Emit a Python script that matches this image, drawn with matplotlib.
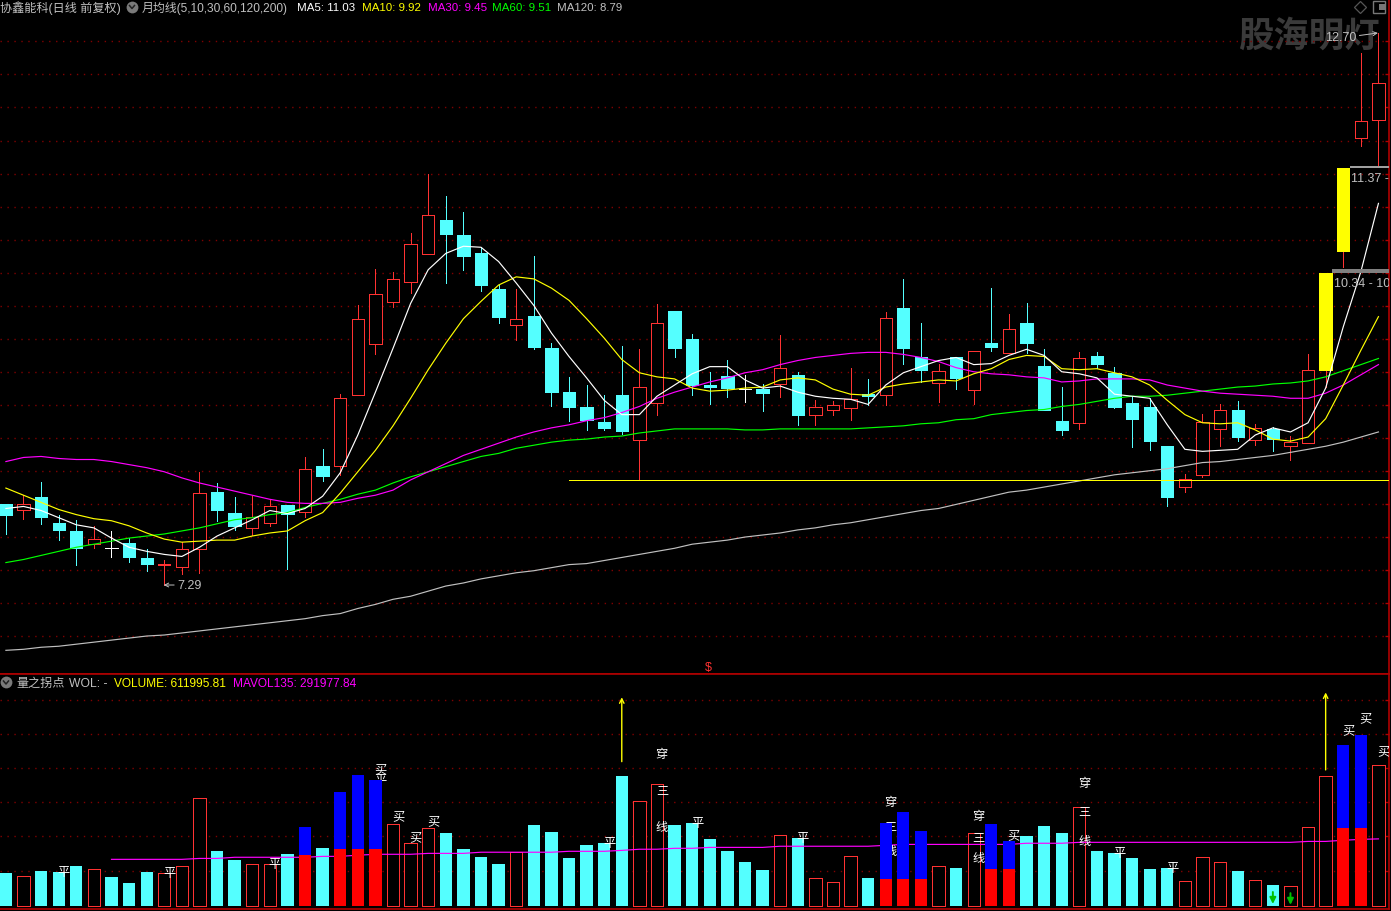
import matplotlib
matplotlib.use('Agg')
import matplotlib.pyplot as plt
import numpy as np
from matplotlib.lines import Line2D

plt.rcParams['font.family'] = ['Liberation Sans', 'Noto Sans CJK SC', 'DejaVu Sans']

# daily candles, one entry per session
opens = [8.08, 8.03, 8.15, 7.90, 7.82, 7.69, 7.65, 7.70, 7.55, 7.49, 7.47, 7.64, 8.20, 8.00, 7.85, 7.90,
         8.07, 8.01, 8.46, 8.46, 9.15, 9.65, 10.06, 10.26, 10.53, 10.87, 10.72, 10.54, 10.19, 9.84, 9.93,
         9.61, 9.18, 9.03, 8.89, 9.15, 8.71, 9.07, 9.98, 9.70, 9.25, 9.34, 9.21, 9.21, 9.26, 9.35, 8.96,
         9.01, 9.02, 9.16, 9.15, 10.00, 9.52, 9.27, 9.52, 9.20, 9.66, 9.56, 9.86, 9.44, 8.90, 8.88, 9.53,
         9.37, 9.07, 9.03, 8.65, 8.25, 8.37, 8.82, 9.01, 8.71, 8.82, 8.65, 8.68, 9.40, 10.56, 11.67, 11.85]
highs = [8.08, 8.17, 8.30, 7.98, 7.93, 7.87, 7.82, 7.75, 7.64, 7.54, 7.71, 8.40, 8.29, 8.15, 8.16, 8.13,
         8.07, 8.54, 8.62, 9.16, 10.03, 10.39, 10.36, 10.74, 11.32, 11.10, 10.95, 10.60, 10.23, 10.19, 10.51,
         9.66, 9.33, 9.25, 9.15, 9.63, 9.60, 10.04, 9.98, 9.75, 9.38, 9.50, 9.35, 9.26, 9.74, 9.38, 9.10,
         9.09, 9.42, 9.31, 9.97, 10.29, 9.86, 9.46, 9.52, 9.58, 10.20, 9.95, 10.05, 9.60, 9.23, 9.57, 9.57,
         9.43, 9.13, 9.12, 8.65, 8.38, 8.97, 9.06, 9.09, 8.87, 8.84, 8.75, 9.55, 10.35, 11.38, 12.50, 12.70]
lows = [7.79, 7.94, 7.89, 7.73, 7.49, 7.65, 7.56, 7.52, 7.43, 7.29, 7.40, 7.41, 7.92, 7.83, 7.78, 7.87,
        7.45, 7.96, 8.31, 8.37, 9.15, 9.55, 10.01, 10.15, 10.53, 10.25, 10.38, 10.17, 9.86, 9.69, 9.60,
        9.04, 8.90, 8.81, 8.81, 8.77, 8.32, 8.96, 9.52, 9.15, 9.06, 9.13, 9.08, 9.00, 9.13, 8.86, 8.86,
        8.96, 8.91, 9.05, 9.05, 9.46, 9.28, 9.08, 9.21, 9.06, 9.58, 9.56, 9.56, 9.01, 8.76, 8.82, 9.42,
        9.02, 8.64, 8.61, 8.06, 8.20, 8.35, 8.65, 8.70, 8.66, 8.60, 8.52, 8.68, 9.23, 10.41, 11.59, 11.40]
closes = [7.98, 8.08, 7.96, 7.83, 7.65, 7.74, 7.65, 7.56, 7.50, 7.50, 7.64, 8.19, 8.03, 7.87, 7.96, 8.06,
          7.99, 8.43, 8.36, 9.12, 9.90, 10.14, 10.29, 10.63, 10.92, 10.73, 10.51, 10.23, 9.92, 9.90, 9.62,
          9.18, 9.03, 8.91, 8.83, 8.80, 9.23, 9.86, 9.61, 9.25, 9.23, 9.22, 9.21, 9.17, 9.42, 8.96, 9.03,
          9.05, 9.11, 9.14, 9.91, 9.61, 9.40, 9.39, 9.32, 9.58, 9.62, 9.80, 9.66, 9.01, 8.81, 9.51, 9.46,
          9.03, 8.92, 8.70, 8.15, 8.33, 8.89, 9.01, 8.74, 8.83, 8.72, 8.69, 9.40, 10.35, 11.38, 11.84, 12.21]
gap_days = [75, 76]

ma5 = [8.04, 8.06, 8.02, 7.95, 7.88, 7.85, 7.75, 7.66, 7.62, 7.59, 7.57, 7.66, 7.77, 7.85, 7.93, 8.02,
       7.99, 8.04, 8.16, 8.39, 8.76, 9.18, 9.61, 10.05, 10.38, 10.54, 10.61, 10.60, 10.46, 10.25, 10.03,
       9.76, 9.53, 9.32, 9.10, 8.96, 8.96, 9.14, 9.25, 9.36, 9.43, 9.43, 9.30, 9.22, 9.24, 9.18, 9.14,
       9.12, 9.11, 9.06, 9.25, 9.37, 9.43, 9.49, 9.52, 9.45, 9.46, 9.54, 9.60, 9.54, 9.38, 9.36, 9.32,
       9.16, 9.14, 9.12, 8.86, 8.62, 8.60, 8.61, 8.62, 8.76, 8.83, 8.79, 8.88, 9.22, 9.82, 10.36, 11.03]
ma10 = [8.24, 8.17, 8.10, 8.03, 7.98, 7.94, 7.92, 7.87, 7.80, 7.74, 7.71, 7.72, 7.73, 7.73, 7.77, 7.80,
        7.82, 7.92, 8.00, 8.19, 8.40, 8.61, 8.85, 9.12, 9.40, 9.66, 9.90, 10.07, 10.23, 10.31, 10.29,
        10.20, 10.08, 9.90, 9.71, 9.50, 9.37, 9.33, 9.31, 9.22, 9.19, 9.20, 9.22, 9.23, 9.30, 9.32, 9.30,
        9.21, 9.16, 9.15, 9.23, 9.26, 9.28, 9.30, 9.29, 9.36, 9.41, 9.50, 9.54, 9.53, 9.41, 9.40, 9.41,
        9.37, 9.33, 9.25, 9.10, 8.96, 8.88, 8.87, 8.88, 8.81, 8.72, 8.70, 8.74, 8.92, 9.25, 9.59, 9.92]
ma30 = [8.50, 8.54, 8.55, 8.53, 8.52, 8.52, 8.50, 8.47, 8.44, 8.40, 8.34, 8.29, 8.25, 8.21, 8.17, 8.13,
        8.10, 8.09, 8.09, 8.10, 8.14, 8.17, 8.22, 8.32, 8.40, 8.48, 8.56, 8.62, 8.68, 8.74, 8.79,
        8.83, 8.86, 8.90, 8.93, 8.98, 9.04, 9.12, 9.18, 9.23, 9.28, 9.32, 9.37, 9.40, 9.45, 9.49, 9.52,
        9.54, 9.56, 9.57, 9.57, 9.55, 9.52, 9.48, 9.42, 9.38, 9.36, 9.35, 9.33, 9.32, 9.28, 9.29, 9.31,
        9.31, 9.31, 9.30, 9.25, 9.22, 9.19, 9.17, 9.16, 9.15, 9.14, 9.12, 9.12, 9.17, 9.25, 9.35, 9.45]
ma60 = [7.51, 7.54, 7.58, 7.62, 7.66, 7.69, 7.72, 7.75, 7.77, 7.79, 7.82, 7.85, 7.89, 7.93, 7.95, 7.98,
        8.00, 8.05, 8.09, 8.13, 8.18, 8.22, 8.29, 8.35, 8.40, 8.45, 8.50, 8.55, 8.58, 8.63, 8.66,
        8.69, 8.71, 8.72, 8.74, 8.75, 8.78, 8.80, 8.82, 8.82, 8.82, 8.82, 8.81, 8.81, 8.82, 8.82, 8.82,
        8.82, 8.82, 8.83, 8.84, 8.85, 8.87, 8.88, 8.91, 8.92, 8.96, 8.98, 9.00, 9.01, 9.04, 9.06, 9.09,
        9.12, 9.14, 9.14, 9.15, 9.17, 9.19, 9.21, 9.23, 9.24, 9.26, 9.27, 9.29, 9.33, 9.39, 9.45, 9.51]
ma120 = [6.65, 6.66, 6.68, 6.69, 6.71, 6.73, 6.75, 6.77, 6.79, 6.80, 6.82, 6.84, 6.86, 6.88, 6.90, 6.92,
         6.94, 6.96, 6.99, 7.01, 7.06, 7.10, 7.15, 7.18, 7.23, 7.28, 7.31, 7.35, 7.38, 7.41, 7.43,
         7.46, 7.49, 7.50, 7.53, 7.56, 7.59, 7.62, 7.65, 7.69, 7.71, 7.73, 7.76, 7.78, 7.80, 7.83, 7.85,
         7.88, 7.90, 7.93, 7.96, 7.99, 8.02, 8.04, 8.08, 8.12, 8.16, 8.20, 8.22, 8.25, 8.28, 8.31, 8.34,
         8.37, 8.39, 8.41, 8.43, 8.46, 8.49, 8.50, 8.52, 8.54, 8.56, 8.59, 8.62, 8.65, 8.69, 8.74, 8.79]

support_price = 8.32
support_start = 32  # first session of the horizontal line (approx)

# volume panel, in units of 10k lots
volumes = [14.4, 12.9, 15.2, 14.8, 17.4, 16.0, 12.6, 10.0, 14.8, 14.2, 17.3, 46.8, 23.9, 20.0, 18.1, 18.1,
           22.6, 34.4, 25.2, 49.6, 57.0, 54.8, 35.5, 27.3, 33.8, 31.8, 24.8, 21.3, 18.3, 23.4, 35.2,
           32.2, 20.9, 26.5, 27.4, 56.6, 45.5, 52.9, 35.2, 36.1, 29.1, 23.9, 19.1, 15.7, 30.8, 29.6, 12.0,
           10.3, 21.6, 12.2, 36.1, 40.9, 32.6, 17.3, 16.5, 31.6, 35.7, 28.3, 30.5, 34.8, 31.8, 42.9, 23.9,
           23.1, 20.9, 16.1, 16.5, 10.7, 21.2, 19.0, 15.2, 11.2, 9.1, 8.6, 34.2, 56.4, 70.0, 74.4, 61.2]
vol_kinds = list('crcccrcccrrrccrrcbcbbbrrrcccc' 'rccccccrrccccccrcrrrcbbbrcrbbcccrccccc' 'rrrcrcrrrbbr')
# height of the red part in the blue/red signal bars
signal_low = {17: 22.2, 19: 24.8, 20: 24.8, 21: 24.8, 50: 11.7, 51: 11.7, 52: 11.7,
              56: 16.1, 57: 16.1, 76: 33.9, 77: 33.9}
mavol135 = [np.nan] * 6 + [20.3, 20.3, 20.3, 20.3, 20.3, 20.7, 20.7, 21.2, 21.2, 21.2, 21.2, 21.2, 21.6, 21.6,
            22.1, 22.5, 22.5, 22.5, 22.9, 22.9, 22.9, 23.4, 23.4, 23.4, 23.4, 23.4, 23.8, 23.8, 23.8, 24.2,
            24.7, 24.7, 25.1, 25.1, 25.5, 25.5, 25.5, 25.5, 26.0, 26.0, 26.0, 26.0, 26.0, 26.0, 26.4,
            26.8, 26.8, 26.8, 26.8, 26.8, 26.8, 26.8, 27.3, 27.3, 27.3, 27.7, 27.7, 27.7, 27.7, 27.7, 27.7,
            27.7, 27.7, 27.7, 27.7, 27.7, 27.7, 27.7, 28.1, 28.1, 28.6, 29.0, 29.2]

flat_days = [3, 9, 15, 21, 34, 39, 45, 63, 66]
buy_marks = [(21, 59.6), (22, 39.2), (23, 30.0), (24, 37.0), (57, 31.0), (76, 76.7), (77, 81.8), (78, 67.4)]
cross_marks = [(37, 66.1, 50.2, 34.4), (50, 45.2, 34.4, 23.9), (55, 39.3, 29.6, 20.9), (61, 53.5, 40.9, 28.4)]
up_arrows = [(35, 62.8, 90.8), (75, 59.2, 92.9)]
down_arrows = [(72, 6.1, 0.9), (73, 5.6, 0.5)]

W, H = 1391, 912
RED = '#ff3232'
CYAN = '#54ffff'
FRAME = '#b00000'
DOT = '#800000'
GRAY = '#c0c0c0'
BODY_W = 0.70
THIN = 0.72

fig = plt.figure(figsize=(W / 100, H / 100), dpi=100, facecolor='black')
ax = fig.add_axes([0, (H - 675.3) / H, 1389 / W, 675.3 / H], facecolor='black')
vax = fig.add_axes([0, (H - 910) / H, 1389 / W, (910 - 675.3) / H], facecolor='black')

xlim = (-0.335, 78.6)
days = np.arange(len(closes))

for a in (ax, vax):
    a.set_xlim(*xlim)
    a.set_xticks([])
    a.set_axisbelow(True)
    a.tick_params(axis='y', direction='in', left=False, right=True, labelleft=False,
                  length=3, width=1, color=FRAME)
    a.grid(axis='y', color=DOT, linewidth=1, linestyle=(0, (1, 4)))
    for side in a.spines:
        a.spines[side].set_visible(side in ('bottom', 'right'))
        a.spines[side].set_color(FRAME)
        a.spines[side].set_linewidth(1.2)

ax.set_ylim(6.415, 13.033)
ax.set_yticks(12.618 - 0.324 * np.arange(19))
vax.set_ylim(-1.3, 100.8)
vax.set_yticks([15.1, 30.3, 45.1, 59.9, 74.7, 89.5])
vax.spines['top'].set_visible(True)
vax.spines['top'].set_color(FRAME)
vax.spines['top'].set_linewidth(1.2)

# watermark sits behind everything
ax.text(74.05, 12.67, '股海明灯', color='#3a3a3a', fontsize=25.5, fontweight='black',
        ha='center', va='center', zorder=0.5)

# candles
for i in days:
    o, h, l, c = opens[i], highs[i], lows[i], closes[i]
    top, bot = max(o, c), min(o, c)
    if i in gap_days:
        wick, edge, face = RED, 'yellow', 'yellow'
    elif c > o:
        wick, edge, face = RED, RED, 'black'
    elif c == o:
        wick, edge, face = 'white', 'white', 'white'
    else:
        wick, edge, face = CYAN, CYAN, CYAN
    ax.vlines(i, top, h, color=wick, linewidth=THIN, zorder=2, antialiased=False)
    ax.vlines(i, l, bot, color=wick, linewidth=THIN, zorder=2, antialiased=False)
    ax.bar(i, top - bot, bottom=bot, width=BODY_W, facecolor=face, edgecolor=edge,
           linewidth=THIN, zorder=2, antialiased=False)

ma_lines = [(ma120, GRAY), (ma60, '#00ff00'), (ma30, '#ff00ff'), (ma10, '#ffff00'), (ma5, 'white')]
for values, colour in ma_lines:
    ax.plot(days, values, color=colour, linewidth=0.85, zorder=3)

ax.hlines(support_price, support_start, xlim[1], color='#ffff00', linewidth=THIN, zorder=3, antialiased=False)

# gap bands with their price labels
ax.fill_between([75.36, xlim[1]], 10.35, 10.39, color='#808080', linewidth=0, zorder=4)
ax.fill_between([76.36, xlim[1]], 11.38, 11.40, color='#a0a0a0', linewidth=0, zorder=4)
ax.text(75.45, 10.25, '10.34 - 10.41', color=GRAY, fontsize=9, ha='left', va='center', clip_on=True, zorder=4)
ax.text(76.42, 11.28, '11.37 - 11.41', color=GRAY, fontsize=9, ha='left', va='center', clip_on=True, zorder=4)

# high and low markers
ax.annotate('12.70', xy=(77.97, 12.70), xytext=(74.98, 12.66), color=GRAY, fontsize=9, va='center', zorder=5,
            arrowprops=dict(arrowstyle='->', color=GRAY, linewidth=0.7, shrinkA=0, shrinkB=0,
                            relpos=(1, 0.6), mutation_scale=7))
ax.annotate('7.29', xy=(8.97, 7.29), xytext=(9.72, 7.29), color=GRAY, fontsize=9, va='center', zorder=5,
            arrowprops=dict(arrowstyle='->', color=GRAY, linewidth=0.7, shrinkA=0, shrinkB=0,
                            relpos=(0, 0.5), mutation_scale=7))
ax.text(39.9, 6.49, '$', color=RED, fontsize=9, ha='center', va='center', parse_math=False, zorder=5)

# volume bars
for i in days:
    kind = vol_kinds[i]
    v = volumes[i]
    if kind == 'c':
        vax.bar(i, v, width=BODY_W, color=CYAN, linewidth=0, zorder=1)
    elif kind == 'r':
        vax.bar(i, v, width=BODY_W, facecolor='black', edgecolor=RED, linewidth=THIN, zorder=1, antialiased=False)
    else:
        vax.bar(i, v, width=BODY_W, color='#0000ff', linewidth=0, zorder=4)
        vax.bar(i, signal_low[i], width=BODY_W, color='#ff0000', linewidth=0, zorder=4)

vax.plot(days, mavol135, color='#ff00ff', linewidth=0.85, zorder=2)

MARK_DX = 0.28
MARK_SIZE = 8.8
for i in flat_days:
    vax.text(i + MARK_DX, volumes[i], '平', color='white', fontsize=MARK_SIZE, ha='center', va='center',
             clip_on=True, zorder=3)
for i, level in buy_marks:
    vax.text(i + MARK_DX, level, '买', color='white', fontsize=MARK_SIZE, ha='center', va='center',
             clip_on=True, zorder=3)
for i, a, b, c in cross_marks:
    for level, word in zip((a, b, c), '穿三线'):
        vax.text(i + MARK_DX, level, word, color='white', fontsize=MARK_SIZE, ha='center', va='center',
                 clip_on=True, zorder=3)

for i, start, end in up_arrows:
    vax.annotate('', xy=(i, end), xytext=(i, start), zorder=5,
                 arrowprops=dict(arrowstyle='->', color='#ffff00', linewidth=1.0, shrinkA=0, shrinkB=0,
                                 mutation_scale=8))
for i, start, end in down_arrows:
    vax.annotate('', xy=(i, end), xytext=(i, start), zorder=5,
                 arrowprops=dict(arrowstyle='-|>', color='#00c000', linewidth=1.4, shrinkA=0, shrinkB=0,
                                 mutation_scale=9))


def label(x, y, s, colour=GRAY, size=8.7):
    fig.text(x / W, 1 - y / H, s, color=colour, fontsize=size, ha='left', va='center', zorder=10)


def arrow_icon(x, y):
    fig.add_artist(Line2D([x / W], [1 - y / H], marker='o', markersize=8.5, color='#7a7a7a',
                          markeredgewidth=0, linestyle='none'))
    fig.add_artist(Line2D([(x - 2.5) / W, x / W, (x + 2.5) / W],
                          [1 - (y - 1) / H, 1 - (y + 2) / H, 1 - (y - 1) / H], color='#222222', linewidth=1.1))


label(0, 8.5, '协鑫能科(日线 前复权)')
arrow_icon(132, 7.5)
label(142, 8.5, '月均线(5,10,30,60,120,200)', size=8.6)
label(297, 8, 'MA5: 11.03', 'white', 8.25)
label(362, 8, 'MA10: 9.92', '#ffff00', 8.25)
label(428, 8, 'MA30: 9.45', '#ff00ff', 8.25)
label(492, 8, 'MA60: 9.51', '#00ff00', 8.25)
label(557, 8, 'MA120: 8.79', GRAY, 8.25)

arrow_icon(6, 683)
label(16, 684, '量之拐点')
label(69, 684, 'WOL: -', GRAY)
label(114, 684, 'VOLUME: 611995.81', '#ffff00', 8.6)
label(233, 684, 'MAVOL135: 291977.84', '#ff00ff', 8.6)

# window buttons, top right
fig.add_artist(Line2D([1360 / W], [1 - 8 / H], marker='D', markersize=6.5, markerfacecolor='none',
                      markeredgecolor='#555555', markeredgewidth=0.9, linestyle='none'))
fig.add_artist(Line2D([1379 / W], [1 - 8 / H], marker='s', markersize=8, markerfacecolor='none',
                      markeredgecolor='#777777', markeredgewidth=1, linestyle='none'))
fig.add_artist(Line2D([1381.5 / W], [1 - 8 / H], marker='s', markersize=4, color='#777777',
                      markeredgewidth=0, linestyle='none'))

fig.savefig('out.png', dpi=100, facecolor='black')
